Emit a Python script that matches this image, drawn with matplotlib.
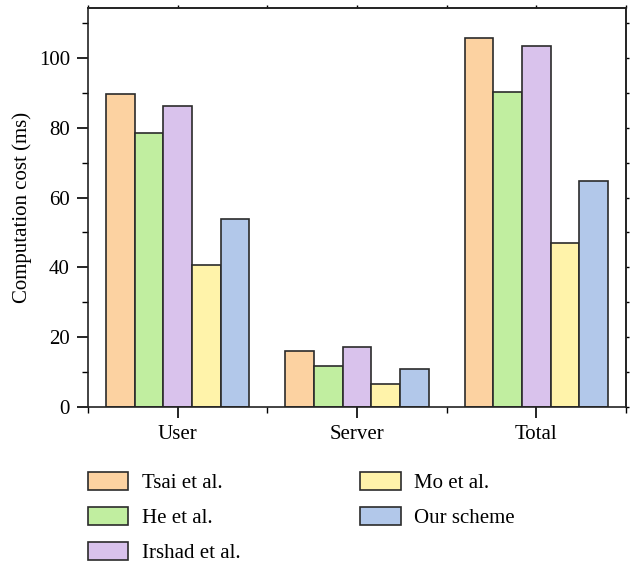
import numpy as np
import matplotlib
matplotlib.use("Agg")
import matplotlib.pyplot as plt
from matplotlib.ticker import MultipleLocator, FixedLocator

plt.rcParams['font.family'] = ['Liberation Serif', 'DejaVu Serif']

categories = ["User", "Server", "Total"]
schemes = ["Tsai et al.", "He et al.", "Irshad et al.", "Mo et al.", "Our scheme"]
tsai = [89.8, 16.05, 105.85]
he = [78.5, 11.75, 90.25]
irshad = [86.2, 17.3, 103.5]
mo = [40.6, 6.5, 47.1]
ours = [53.9, 10.9, 64.8]
series = [tsai, he, irshad, mo, ours]
colors = ["#FCD2A1", "#C1EEA0", "#D9C2EC", "#FFF3AA", "#B2C8EA"]

FS = 15

fig = plt.figure(figsize=(6.35, 5.65), dpi=100)
ax = fig.add_axes([0.1386, 0.2796, 0.8472, 0.7062])

x = np.arange(1, len(categories) + 1)
width = 0.16
handles = []
for i, (vals, col, name) in enumerate(zip(series, colors, schemes)):
    offs = (i - 2) * width
    b = ax.bar(x + offs, vals, width, color=col, edgecolor="#2b2b2b",
               linewidth=1.2, label=name)
    handles.append(b)

ax.set_xlim(0.5, 3.5)
ax.set_ylim(0, 114.3)
ax.set_xticks(x)
ax.set_xticklabels(categories)
ax.xaxis.set_minor_locator(FixedLocator([0.5, 1.5, 2.5, 3.5]))
ax.yaxis.set_major_locator(MultipleLocator(20))
ax.yaxis.set_minor_locator(MultipleLocator(10))
ax.set_ylabel("Computation cost (ms)", fontsize=FS, labelpad=5)

ax.tick_params(axis='both', which='major', direction='out', length=8, width=1.2,
               labelsize=FS, pad=5)
ax.tick_params(axis='both', which='minor', direction='out', length=4, width=1.0)

# short mirrored ticks on the top and right spines
top = ax.secondary_xaxis('top')
top.set_xticks(x)
top.xaxis.set_minor_locator(FixedLocator([0.5, 1.5, 2.5, 3.5]))
top.tick_params(which='both', direction='out', length=2.5, width=1.0, labeltop=False)
right = ax.secondary_yaxis('right')
right.yaxis.set_major_locator(MultipleLocator(20))
right.yaxis.set_minor_locator(MultipleLocator(10))
right.tick_params(which='both', direction='out', length=2.5, width=1.0, labelright=False)

for a in (ax, top, right):
    for sp in a.spines.values():
        sp.set_linewidth(1.2)
        sp.set_color("#222222")

fig.legend(handles=handles, labels=schemes, ncol=2, loc='upper left',
           bbox_to_anchor=(0.138, 0.164), frameon=False, fontsize=FS,
           handlelength=1.95, handleheight=0.95, handletextpad=0.65,
           labelspacing=0.65, columnspacing=5.75, borderaxespad=0, borderpad=0)

fig.savefig("out.png", dpi=100)
